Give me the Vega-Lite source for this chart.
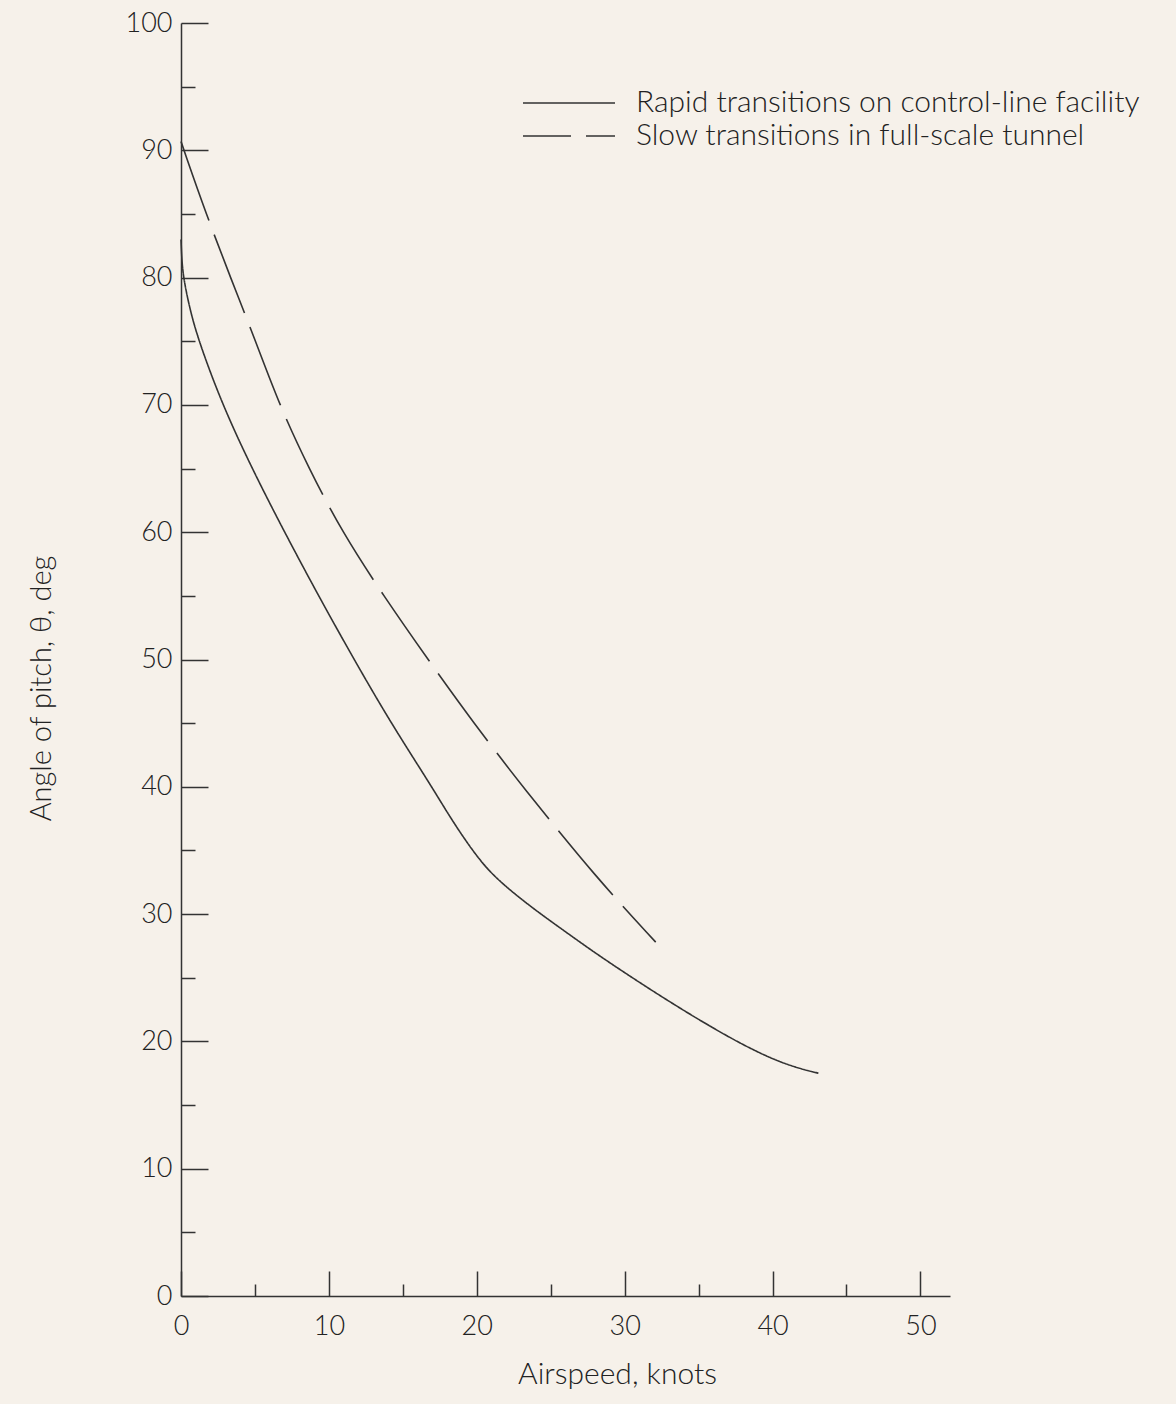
{
  "$schema": "https://vega.github.io/schema/vega-lite/v6.json",
  "width": 769,
  "height": 1273,
  "autosize": {"type": "none"},
  "padding": {"left": 181, "top": 23, "right": 226, "bottom": 108},
  "background": "#f6f1ea",
  "config": {
    "view": {"stroke": null},
    "font": "Lato",
    "axis": {
      "grid": false,
      "domainColor": "#333333",
      "domainWidth": 1.5,
      "tickColor": "#333333",
      "tickWidth": 1.5,
      "labelColor": "#222222",
      "labelFont": "Lato",
      "labelFontWeight": 300,
      "labelFontSize": 27,
      "labelFlush": false,
      "labelOverlap": false,
      "titleColor": "#222222",
      "titleFont": "Lato",
      "titleFontWeight": 300,
      "titleFontSize": 30
    },
    "legend": {
      "labelFont": "Lato",
      "labelFontWeight": 300
    }
  },
  "data": {
    "values": [
      {"series": "Rapid transitions on control-line facility", "airspeed": 0, "pitch": 83},
      {"series": "Rapid transitions on control-line facility", "airspeed": 0.05, "pitch": 81.5},
      {"series": "Rapid transitions on control-line facility", "airspeed": 0.16, "pitch": 80},
      {"series": "Rapid transitions on control-line facility", "airspeed": 0.6, "pitch": 77.5},
      {"series": "Rapid transitions on control-line facility", "airspeed": 1.2, "pitch": 75},
      {"series": "Rapid transitions on control-line facility", "airspeed": 2.8, "pitch": 70},
      {"series": "Rapid transitions on control-line facility", "airspeed": 4.8, "pitch": 65},
      {"series": "Rapid transitions on control-line facility", "airspeed": 7.0, "pitch": 60},
      {"series": "Rapid transitions on control-line facility", "airspeed": 9.3, "pitch": 55},
      {"series": "Rapid transitions on control-line facility", "airspeed": 11.7, "pitch": 50},
      {"series": "Rapid transitions on control-line facility", "airspeed": 14.2, "pitch": 45},
      {"series": "Rapid transitions on control-line facility", "airspeed": 16.8, "pitch": 40.3},
      {"series": "Rapid transitions on control-line facility", "airspeed": 18.2, "pitch": 37.6},
      {"series": "Rapid transitions on control-line facility", "airspeed": 19.35, "pitch": 35.6},
      {"series": "Rapid transitions on control-line facility", "airspeed": 20.3, "pitch": 34.1},
      {"series": "Rapid transitions on control-line facility", "airspeed": 21.4, "pitch": 32.7},
      {"series": "Rapid transitions on control-line facility", "airspeed": 23.6, "pitch": 30.6},
      {"series": "Rapid transitions on control-line facility", "airspeed": 26.5, "pitch": 28.2},
      {"series": "Rapid transitions on control-line facility", "airspeed": 28.3, "pitch": 26.7},
      {"series": "Rapid transitions on control-line facility", "airspeed": 32.6, "pitch": 23.4},
      {"series": "Rapid transitions on control-line facility", "airspeed": 37.3, "pitch": 20.1},
      {"series": "Rapid transitions on control-line facility", "airspeed": 40.7, "pitch": 18.2},
      {"series": "Rapid transitions on control-line facility", "airspeed": 43.1, "pitch": 17.5},
      {"series": "Slow transitions in full-scale tunnel", "airspeed": 0, "pitch": 90.7},
      {"series": "Slow transitions in full-scale tunnel", "airspeed": 0.2, "pitch": 90},
      {"series": "Slow transitions in full-scale tunnel", "airspeed": 1.7, "pitch": 85},
      {"series": "Slow transitions in full-scale tunnel", "airspeed": 3.35, "pitch": 80},
      {"series": "Slow transitions in full-scale tunnel", "airspeed": 5.05, "pitch": 75},
      {"series": "Slow transitions in full-scale tunnel", "airspeed": 6.65, "pitch": 70},
      {"series": "Slow transitions in full-scale tunnel", "airspeed": 8.65, "pitch": 65},
      {"series": "Slow transitions in full-scale tunnel", "airspeed": 10.9, "pitch": 60},
      {"series": "Slow transitions in full-scale tunnel", "airspeed": 13.7, "pitch": 55},
      {"series": "Slow transitions in full-scale tunnel", "airspeed": 16.7, "pitch": 50},
      {"series": "Slow transitions in full-scale tunnel", "airspeed": 19.8, "pitch": 45},
      {"series": "Slow transitions in full-scale tunnel", "airspeed": 23.1, "pitch": 40},
      {"series": "Slow transitions in full-scale tunnel", "airspeed": 28.2, "pitch": 32.7},
      {"series": "Slow transitions in full-scale tunnel", "airspeed": 32.1, "pitch": 27.8}
    ]
  },
  "mark": {"type": "line", "interpolate": "basis", "color": "#333333", "strokeWidth": 1.6},
  "encoding": {
    "x": {
      "field": "airspeed",
      "type": "quantitative",
      "scale": {"domain": [0, 52], "nice": false, "zero": false},
      "axis": {
        "values": [0, 5, 10, 15, 20, 25, 30, 35, 40, 45, 50],
        "labelExpr": "datum.value % 10 === 0 ? datum.label : ''",
        "tickSize": {"condition": {"test": "datum.value % 10 === 0", "value": -25}, "value": -12},
        "labelPadding": 42,
        "title": "Airspeed, knots",
        "titleX": 436,
        "titleY": 87,
        "titleAlign": "center",
        "titleBaseline": "alphabetic"
      }
    },
    "y": {
      "field": "pitch",
      "type": "quantitative",
      "scale": {"domain": [0, 100], "nice": false},
      "axis": {
        "values": [0, 5, 10, 15, 20, 25, 30, 35, 40, 45, 50, 55, 60, 65, 70, 75, 80, 85, 90, 95, 100],
        "labelExpr": "datum.value % 10 === 0 ? datum.label : ''",
        "tickSize": {"condition": {"test": "datum.value % 10 === 0", "value": -27}, "value": -14},
        "labelPadding": 36,
        "title": "Angle of pitch, θ, deg",
        "titleFontSize": 29,
        "titleX": -131,
        "titleY": 665,
        "titleAngle": -90,
        "titleAlign": "center",
        "titleBaseline": "alphabetic"
      }
    },
    "strokeDash": {
      "field": "series",
      "type": "nominal",
      "scale": {
        "domain": ["Rapid transitions on control-line facility", "Slow transitions in full-scale tunnel"],
        "range": [[1, 0], [84, 15]]
      },
      "legend": {
        "orient": "none",
        "legendX": 373,
        "legendY": 65,
        "title": null,
        "padding": 0,
        "symbolType": "M-4,0H4",
        "symbolSize": 529,
        "symbolStrokeWidth": 1.6,
        "symbolStrokeColor": "#333333",
        "symbolDashOffset": 36,
        "labelFontSize": 30,
        "labelColor": "#222222",
        "labelOffset": 52,
        "labelLimit": 0,
        "rowPadding": 3
      }
    }
  }
}
